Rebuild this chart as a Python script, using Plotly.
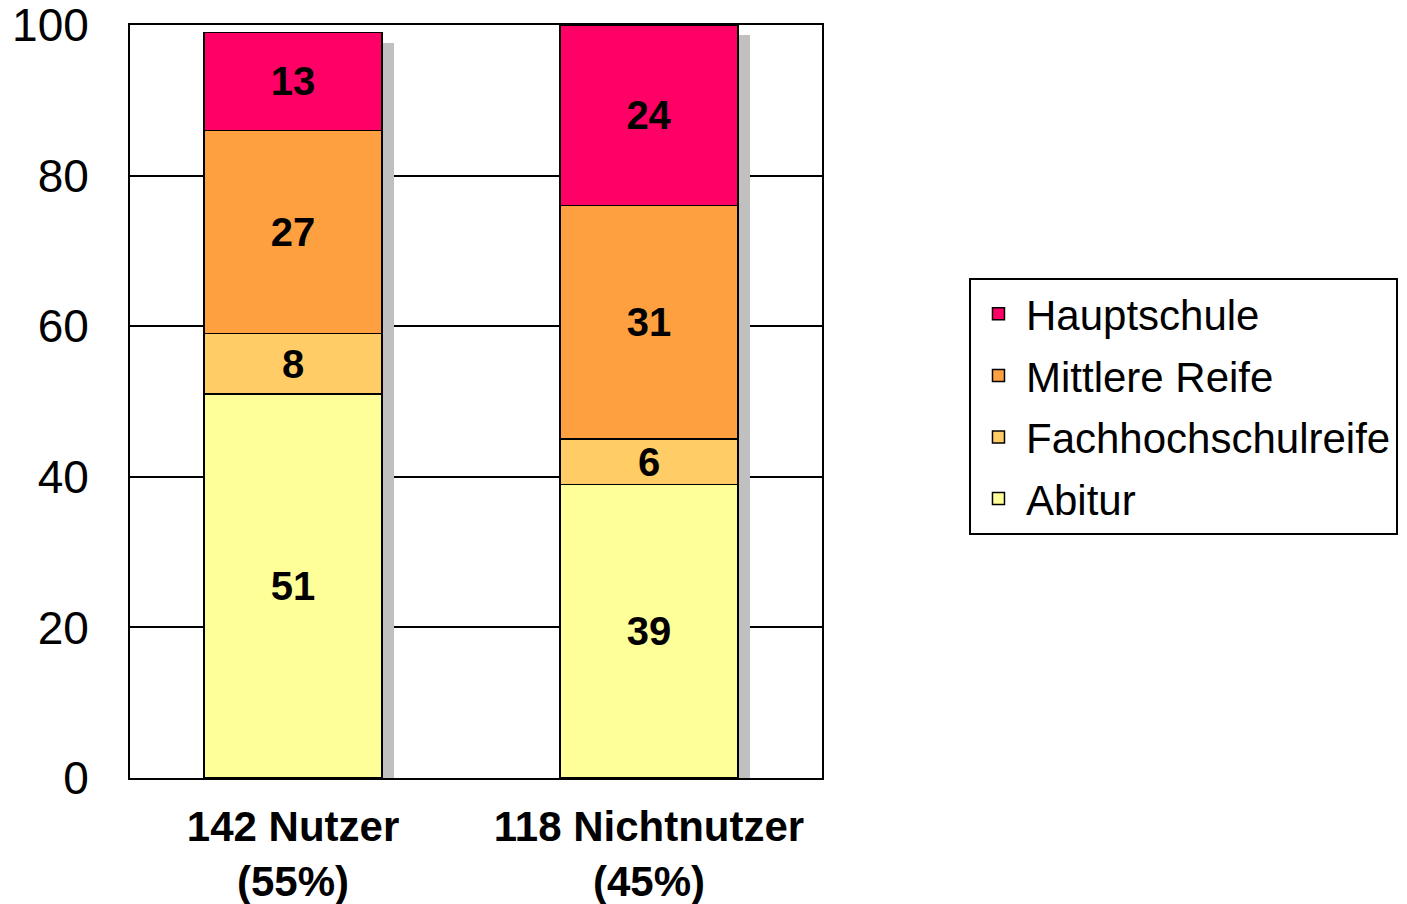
import plotly.graph_objects as go

categories = ["142 Nutzer<br>(55%)", "118 Nichtnutzer<br>(45%)"]
series_names = ["Abitur", "Fachhochschulreife", "Mittlere Reife", "Hauptschule"]
abitur = [51, 39]
fachhochschulreife = [8, 6]
mittlere_reife = [27, 31]
hauptschule = [13, 24]
y_ticks = [0, 20, 40, 60, 80, 100]

series_values = [abitur, fachhochschulreife, mittlere_reife, hauptschule]
colors = ["#FFFF99", "#FFCC66", "#FFA040", "#FF0066"]
legend_ranks = [4, 3, 2, 1]
totals = [sum(v) for v in zip(*series_values)]

fig = go.Figure()

# shadow behind bars (base axes, shifted)
fig.add_trace(go.Bar(
    x=categories, y=totals, xaxis="x", yaxis="y",
    marker=dict(color="#C0C0C0", line=dict(width=0)),
    width=0.5, showlegend=False, hoverinfo="skip", cliponaxis=False,
))

for name, vals, col, rank in zip(series_names, series_values, colors, legend_ranks):
    fig.add_trace(go.Bar(
        x=categories, y=vals, name=name, xaxis="x2", yaxis="y2",
        marker=dict(color=col, line=dict(color="black", width=1.5)),
        width=0.5,
        text=vals, texttemplate="<b>%{text}</b>", textposition="inside",
        insidetextanchor="middle", textangle=0,
        textfont=dict(family="Liberation Sans, Arial", size=40, color="black"),
        legendgroup=name, legendrank=rank, cliponaxis=False,
    ))

fig.update_layout(
    width=1399, height=896,
    margin=dict(l=122, r=585, t=17, b=126, autoexpand=False),
    paper_bgcolor="white", plot_bgcolor="white",
    barmode="stack",
    uniformtext=dict(minsize=36, mode="show"),
    font=dict(family="Liberation Sans, Arial", color="black"),
    xaxis=dict(range=[-0.492, 1.452], visible=False, fixedrange=True, automargin=False),
    yaxis=dict(range=[1.33, 101.33], visible=False, fixedrange=True, automargin=False),
    xaxis2=dict(
        overlaying="x", side="bottom", range=[-0.458, 1.486],
        showline=True, linecolor="black", linewidth=2, mirror=True,
        showgrid=False, ticks="", automargin=False,
        tickfont=dict(family="Liberation Sans Narrow, Arial Narrow, Liberation Sans", size=42, weight="bold"),
        ticklabelstandoff=11, ticklabeloverflow="allow",
    ),
    yaxis2=dict(
        overlaying="y", side="left", range=[0, 100],
        tickvals=y_ticks,
        showline=True, linecolor="black", linewidth=2, mirror=True,
        showgrid=True, gridcolor="black", gridwidth=2, zeroline=False,
        ticks="", tickfont=dict(size=46), ticklabelstandoff=30,
        automargin=False, ticklabeloverflow="allow",
    ),
    legend=dict(
        x=1.2124, xanchor="left", y=0.664, yanchor="top",
        bordercolor="black", borderwidth=2, bgcolor="white",
        font=dict(size=42), traceorder="grouped", tracegroupgap=4,
        itemwidth=45,
    ),
)

fig.write_html("out.html")
